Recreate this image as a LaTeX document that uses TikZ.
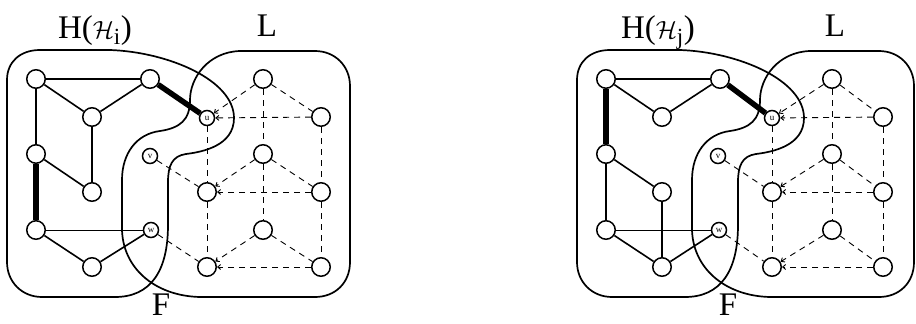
\documentclass[tikz,border=0pt]{standalone}
\usepackage{fontspec}
\setmainfont{Liberation Serif}
\usetikzlibrary{arrows.meta}

\tikzset{
  vtx/.style={circle, draw, line width=1.5pt, minimum size=18.5pt, inner sep=0pt, fill=white},
  fvtx/.style={circle, draw, line width=1.5pt, minimum size=15pt, inner sep=0pt, fill=white, font=\fontsize{9}{9}\selectfont},
  edge/.style={line width=1.6pt},
  thinedge/.style={line width=1pt},
  heavy/.style={line width=5.5pt},
  ledge/.style={line width=0.9pt, dash pattern=on 6pt off 5pt},
  ledgein/.style={ledge, -{Straight Barb[length=3pt,width=5pt]}},
  region/.style={line width=1.7pt},
  lbl/.style={font=\fontsize{33}{33}\selectfont, inner sep=0pt, anchor=base}
}

% one panel: the two regions H and L and all vertices, names prefixed by #1;
% #2 left, #3 middle and #4 right column of L, #5 right side of region L,
% #6 column of v and w
\newcommand{\drawpanel}[6]{%
  % region H (left)
  \draw[region] (40,50) -- (110,50)
    .. controls (168,52) and (234,80) .. (234,118)
    .. controls (234,146) and (202,152) .. (186,154)
    .. controls (172,156) and (168,166) .. (168,182)
    -- (168,225)
    .. controls (168,272) and (150,297) .. (115,297)
    -- (42,297) .. controls (22,297) and (7,282) .. (7,262)
    -- (7,80) .. controls (7,62) and (20,50) .. (40,50) -- cycle;
  % region L (right)
  \draw[region] (240,51) -- (#5-35,51)
    .. controls (#5-15,51) and (#5,66) .. (#5,86)
    -- (#5,262) .. controls (#5,283) and (#5-15,297) .. (#5-35,297)
    -- (200,297)
    .. controls (155,296) and (122,268) .. (122,228)
    -- (122,180)
    .. controls (122,154) and (136,134) .. (160,131)
    .. controls (180,128) and (190,120) .. (190,100)
    .. controls (190,78) and (208,52) .. (240,51) -- cycle;
  % vertices of H
  \node[vtx] (#1a) at (36,79) {};
  \node[vtx] (#1b) at (150,79) {};
  \node[vtx] (#1c) at (92,117) {};
  \node[vtx] (#1d) at (36,154) {};
  \node[vtx] (#1e) at (92,192) {};
  \node[vtx] (#1g) at (36,230) {};
  \node[vtx] (#1k) at (92,267) {};
  % vertices of F
  \node[fvtx] (#1u) at (#2,118) {u};
  \node[fvtx] (#1v) at (#6,156) {v};
  \node[fvtx] (#1w) at (#6+1,230) {w};
  % vertices of L
  \node[vtx] (#1t) at (#3,79) {};
  \node[vtx] (#1r1) at (#4,117) {};
  \node[vtx] (#1m1) at (#3,154) {};
  \node[vtx] (#1l2) at (#2,192) {};
  \node[vtx] (#1r2) at (#4,192) {};
  \node[vtx] (#1m2) at (#3,230) {};
  \node[vtx] (#1l3) at (#2,267) {};
  \node[vtx] (#1r3) at (#4,267) {};
  % dashed edges of L
  \draw[ledgein] (#1t) -- (#1u);
  \draw[ledgein] (#1r1) -- (#1u);
  \draw[ledge] (#1t) -- (#1r1);
  \draw[ledge] (#1t) -- (#1m1);
  \draw[ledge] (#1m1) -- (#1m2);
  \draw[ledge] (#1u) -- (#1l2);
  \draw[ledge] (#1l2) -- (#1l3);
  \draw[ledge] (#1r1) -- (#1r2);
  \draw[ledge] (#1r2) -- (#1r3);
  \draw[ledgein] (#1m1) -- (#1l2);
  \draw[ledge] (#1m1) -- (#1r2);
  \draw[ledgein] (#1r2) -- (#1l2);
  \draw[ledgein] (#1m2) -- (#1l3);
  \draw[ledge] (#1m2) -- (#1r3);
  \draw[ledgein] (#1r3) -- (#1l3);
  \draw[ledge] (#1v) -- (#1l2);
  \draw[ledge] (#1w) -- (#1l3);
  % edges shared by both panels
  \draw[edge] (#1a) -- (#1b);
  \draw[edge] (#1a) -- (#1c);
  \draw[edge] (#1b) -- (#1c);
  \draw[edge] (#1d) -- (#1e);
  \draw[thinedge] (#1g) -- (#1w);
  \draw[edge] (#1g) -- (#1k);
  \draw[edge] (#1k) -- (#1w);
  \draw[heavy] (#1b) -- (#1u);
}

\begin{document}
\begin{tikzpicture}[x=1pt,y=-1pt]
\useasboundingbox (0,0) rectangle (916,324);

% left panel
\drawpanel{p}{207}{263}{321}{350}{150}
\draw[edge] (pc) -- (pe);
\draw[edge] (pa) -- (pd);
\draw[heavy] (pd) -- (pg);
\node[lbl] (ph) at (95,38) {H($\mathcal{H}_{\mathrm{i}}$)};
\node[lbl] (pl) at (267,36) {L};
\node[lbl] (pf) at (161,315) {F};

% right panel
\begin{scope}[xshift=570pt]
\drawpanel{q}{202}{262}{313}{344}{148}
\draw[heavy] (qa) -- (qd);
\draw[edge] (qd) -- (qg);
\draw[edge] (qe) -- (qk);
\node[lbl] (qh) at (88,38) {H($\mathcal{H}_{\mathrm{j}}$)};
\node[lbl] (ql) at (265,36) {L};
\node[lbl] (qf) at (158,315) {F};
\end{scope}
\end{tikzpicture}
\end{document}
